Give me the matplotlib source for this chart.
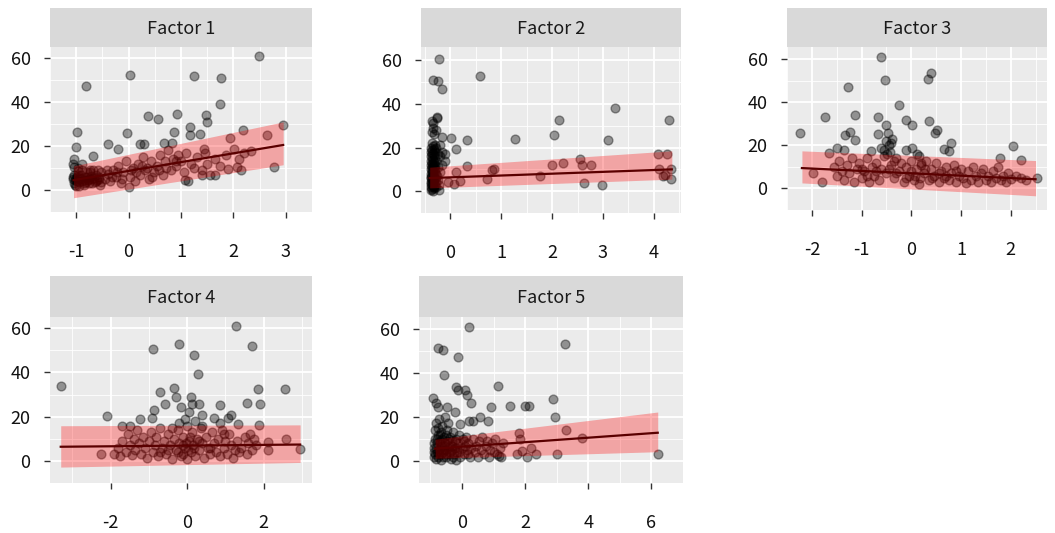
import matplotlib
matplotlib.use("Agg")
import matplotlib.pyplot as plt
import numpy as np

plt.rcParams['font.family'] = ['Noto Sans CJK KR', 'DejaVu Sans']
plt.rcParams['axes.unicode_minus'] = False

# ---- data ----------------------------------------------------------------
titles = ['Factor 1', 'Factor 2', 'Factor 3', 'Factor 4', 'Factor 5']

f1_pts = [
    (-0.82, 47.5), (0.02, 52.5), (1.24, 51.8), (1.76, 50.8), (2.49, 60.9), (1.74, 39),
    (0.37, 33.8), (0.56, 32.5), (0.93, 34.6), (1.47, 34), (1.49, 30.9), (1.18, 28.7),
    (2.94, 29.4), (-0.98, 26.3), (-0.03, 26), (0.87, 26.3), (1.18, 25.1), (1.37, 25.4),
    (2.18, 27.3), (2.65, 25.1), (1.93, 23.7), (-1.0, 19.8), (-0.67, 15.4), (-0.39, 20.9),
    (-0.2, 18.8), (0.22, 20.9), (0.29, 20.9), (0.67, 21.5), (0.83, 21.2), (1.43, 18.6),
    (2.02, 18.8), (2.33, 17.6), (2.77, 10.7), (2.06, 10.4), (2.15, 8.9), (1.89, 9.7),
    (1.64, 6.8), (1.41, 6.8), (1.08, 4.6), (1.13, 3.9), (-1.05, 14), (-1.04, 10.4),
    (-0.88, 11.8), (-0.74, 9),
    (-1.07, 5), (-1.05, 3), (-1.04, 7), (-1.02, 4.5), (-1.0, 2), (-0.98, 6), (-0.97, 8.5),
    (-0.95, 3.5), (-0.93, 5.5), (-0.9, 7), (-0.88, 4), (-0.85, 2.5), (-0.83, 6), (-0.8, 8),
    (-0.78, 4.5), (-0.75, 3), (-0.72, 6.5), (-0.7, 5), (-0.67, 9), (-0.65, 3.5), (-0.62, 7),
    (-0.6, 4.5), (-0.57, 6), (-0.55, 2.5), (-0.52, 8), (-1.06, 12), (-0.96, 10),
    (-1.06, 6), (-1.03, 2.5), (-1.01, 5.5), (-0.99, 4), (-0.96, 7), (-0.94, 2), (-0.91, 5),
    (-0.89, 9), (-0.86, 3), (-0.84, 4.5), (-0.81, 3.5), (-0.79, 6), (-0.76, 5), (-0.73, 8),
    (-0.69, 3), (-0.66, 5.5), (-0.63, 4), (-0.59, 9), (-0.56, 5), (-0.53, 3.5),
    (-0.45, 5), (-0.4, 7.5), (-0.35, 4), (-0.3, 9), (-0.25, 6), (-0.2, 11), (-0.15, 3),
    (-0.1, 8), (-0.05, 13), (0.0, 1.5), (0.02, 6), (0.08, 10), (0.12, 4), (0.18, 12),
    (0.22, 7), (0.28, 15), (0.32, 9), (0.38, 5), (0.42, 13), (0.48, 8), (0.55, 11),
    (0.6, 16), (0.65, 7), (0.7, 13), (0.75, 18), (0.8, 9), (0.85, 14), (0.9, 11),
    (0.95, 16), (1.0, 13), (1.05, 8), (1.1, 17), (1.2, 12), (1.25, 10), (1.3, 15),
    (1.4, 9), (1.45, 17), (1.5, 12), (1.55, 7), (1.65, 14), (1.75, 11), (1.85, 16),
    (2.1, 14), (2.2, 17), (-0.42, 9), (-0.32, 6), (-0.22, 8), (-0.12, 5), (0.05, 9),
    (0.15, 8), (0.25, 11), (0.35, 10), (0.45, 6), (0.58, 9), (0.72, 10), (0.9, 13),
]

f2_pts = [
    (-0.22, 60.7), (-0.34, 51.2), (-0.23, 50.4), (-0.16, 47), (0.59, 52.8), (3.24, 38.3),
    (2.14, 32.5), (4.3, 32.5), (-0.26, 33.6), (-0.34, 31.4), (0.02, 24.4), (-0.16, 24.7),
    (0.11, 19.4), (0.33, 23.4), (1.27, 24.1), (2.04, 25.7), (3.1, 23.4), (0.33, 11.5),
    (0.72, 5.4), (0.82, 9.5), (0.87, 10.2), (1.76, 6.8), (2.0, 11.8), (2.22, 12.9),
    (2.55, 14.9), (2.59, 12.2), (2.63, 3.7), (2.76, 11.8), (2.99, 3), (4.08, 16.9),
    (4.26, 16.9), (4.1, 10.2), (4.22, 7.5), (4.33, 10.2), (4.33, 5.7), (4.18, 6.8),
    (0.12, 8.8), (0.07, 3.4), (0.2, 4.7), (-0.05, 4.3), (-0.21, 0.7),
    (-0.38, 0.5), (-0.38, 2), (-0.38, 4), (-0.38, 6), (-0.38, 8), (-0.38, 10), (-0.38, 12),
    (-0.38, 14), (-0.38, 16), (-0.38, 18), (-0.38, 20),
    (-0.36, 1), (-0.36, 3), (-0.36, 5), (-0.36, 7), (-0.36, 9), (-0.36, 11), (-0.36, 13),
    (-0.36, 15), (-0.36, 17), (-0.36, 19), (-0.36, 22), (-0.36, 27),
    (-0.34, 0), (-0.34, 2.5), (-0.34, 5.5), (-0.34, 8.5), (-0.34, 11.5), (-0.34, 14.5),
    (-0.34, 17.5), (-0.34, 20.5), (-0.34, 29), (-0.35, 32),
    (-0.32, 1.5), (-0.32, 4.5), (-0.32, 7.5), (-0.32, 10.5), (-0.32, 13.5), (-0.32, 16.5),
    (-0.32, 19.5), (-0.32, 26),
    (-0.3, 3), (-0.3, 6), (-0.3, 9), (-0.3, 12), (-0.3, 15), (-0.3, 18), (-0.3, 21),
    (-0.27, 2), (-0.27, 8), (-0.27, 14), (-0.27, 20), (-0.27, 28),
    (-0.24, 5), (-0.24, 11), (-0.24, 17), (-0.25, 34),
    (-0.2, 9), (-0.2, 16), (-0.2, 21), (-0.15, 12), (-0.15, 18), (-0.1, 14), (-0.1, 17),
    (-0.37, 3.5), (-0.37, 6.5), (-0.35, 9.5), (-0.35, 4), (-0.33, 7), (-0.33, 12.5),
    (-0.31, 2), (-0.31, 5), (-0.29, 10), (-0.28, 4.5), (-0.26, 7), (-0.22, 3),
]

f3_pts = [
    (-0.6, 61.2), (-0.53, 50.3), (0.33, 51), (0.4, 53.7), (-1.28, 47.3), (-0.25, 38.8),
    (-1.73, 33.4), (-1.14, 34.3), (-0.66, 33.4), (-0.1, 31.9), (0.01, 29.4), (0.35, 31.2),
    (-2.24, 26), (-1.34, 24.9), (-1.24, 26.4), (-1.13, 22.7), (-0.66, 25.4), (-0.5, 29.4),
    (-0.47, 25.7), (0.47, 26), (0.52, 27.2), (0.8, 21.2), (0.65, 18.5), (0.76, 17.5),
    (2.05, 19.7), (2.21, 13.3), (1.79, 14.2), (2.52, 5.1), (-1.98, 7.3), (-1.79, 3),
    (-1.66, 16.7), (-1.5, 19), (-1.36, 17.9), (-0.81, 17.5), (-0.4, 21.2), (0.02, 19),
    (-0.1, 17.9),
    (-1.55, 10), (-1.5, 6), (-1.45, 13), (-1.4, 8), (-1.35, 4), (-1.3, 11), (-1.25, 7),
    (-1.2, 14), (-1.15, 3), (-1.1, 9), (-1.05, 12), (-1.0, 5), (-0.95, 8), (-0.9, 14),
    (-0.85, 3), (-0.8, 10), (-0.75, 6), (-0.7, 12), (-0.65, 4), (-0.6, 9), (-0.55, 15),
    (-0.5, 7), (-0.45, 20), (-0.42, 17), (-0.4, 11), (-0.38, 23), (-0.35, 5), (-0.3, 14),
    (-0.25, 8), (-0.2, 12), (-0.15, 3), (-0.1, 10), (-0.05, 6), (0.0, 13), (0.05, 4),
    (0.1, 9), (0.12, 16), (0.15, 2), (0.2, 11), (0.25, 7), (0.3, 13), (0.35, 4), (0.4, 9),
    (0.45, 6), (0.5, 12), (0.55, 3), (0.6, 8), (0.65, 5), (0.7, 10), (0.75, 4), (0.8, 7),
    (0.85, 11), (0.9, 3), (0.95, 6), (1.0, 9), (1.05, 5), (1.1, 2.5), (1.15, 8), (1.2, 4),
    (1.25, 10), (1.3, 6), (1.35, 3), (1.4, 7), (1.45, 9), (1.5, 4), (1.55, 6), (1.6, 3),
    (1.65, 8), (1.7, 5), (1.75, 10), (1.8, 4), (1.85, 6), (1.9, 3), (1.95, 7), (2.0, 4.5),
    (2.1, 6), (2.2, 5), (2.3, 4), (-0.55, 18), (-0.5, 22), (-0.48, 16), (-0.6, 19),
    (-0.35, 13), (0.15, 15), (0.2, 12),
    (-1.0, 9), (-0.9, 6), (-0.7, 8), (-0.45, 9), (-0.3, 7), (-0.1, 5), (0.0, 8),
    (0.08, 6), (0.18, 5), (0.28, 9), (0.42, 5), (0.55, 7), (0.7, 6), (0.9, 8),
]

f4_pts = [
    (-3.3, 33.9), (-2.08, 20.2), (-0.9, 50.8), (-0.2, 52.9), (0.19, 47.7), (0.28, 39.5),
    (1.27, 61.2), (1.7, 51.9), (-0.7, 31), (-0.35, 33), (-0.29, 28.7), (-0.57, 25.6),
    (0.1, 28.7), (0.13, 25.6), (0.31, 25.6), (-0.17, 24.2), (-0.87, 22.8), (-0.92, 19.2),
    (0.85, 25.3), (1.57, 26.3), (1.85, 32.7), (1.9, 25.6), (1.88, 16.1), (2.55, 32.7),
    (2.59, 10), (2.94, 5.3), (2.1, 8.5), (2.11, 5), (1.07, 19.6), (1.14, 20.6),
    (1.33, 16.8), (0.7, 19.2), (0.39, 20.6), (-1.7, 15.6), (-1.5, 15.9), (-1.24, 18.8),
    (-2.25, 3.1),
    (-1.9, 3), (-1.8, 6), (-1.75, 2), (-1.7, 9), (-1.6, 4), (-1.55, 12), (-1.5, 7),
    (-1.45, 2.5), (-1.4, 10), (-1.35, 5), (-1.3, 14), (-1.25, 8), (-1.2, 3), (-1.15, 11),
    (-1.1, 6), (-1.05, 1.5), (-1.0, 9), (-0.95, 13), (-0.9, 4), (-0.85, 7), (-0.8, 11),
    (-0.75, 2), (-0.7, 15), (-0.65, 6), (-0.6, 9), (-0.55, 3), (-0.5, 12), (-0.45, 7),
    (-0.4, 1), (-0.35, 10), (-0.3, 5), (-0.25, 14), (-0.2, 8), (-0.15, 2), (-0.1, 11),
    (-0.05, 6), (0.0, 16), (0.0, 1), (0.05, 9), (0.1, 4), (0.12, 13), (0.15, 7), (0.2, 2),
    (0.25, 10), (0.3, 5), (0.35, 15), (0.4, 8), (0.45, 1.5), (0.5, 11), (0.55, 6),
    (0.6, 3), (0.65, 13), (0.7, 8), (0.75, 4), (0.8, 10), (0.85, 2), (0.9, 14), (0.95, 6),
    (1.0, 9), (1.05, 3), (1.1, 12), (1.15, 7), (1.2, 1.5), (1.3, 9), (1.35, 4), (1.4, 6),
    (1.5, 11), (1.55, 3), (1.6, 8), (1.65, 12), (1.7, 5), (1.75, 10), (1.8, 7),
    (-0.05, 19), (0.05, 22), (-0.2, 17), (0.2, 18), (0.4, 16), (-0.4, 15), (0.85, 17),
    (0.95, 12), (-0.1, 3), (-0.02, 8), (0.02, 5), (0.08, 11), (-0.12, 7), (-0.25, 4),
    (0.18, 6), (0.32, 9), (-0.5, 5), (0.6, 6), (-0.7, 4), (1.25, 5),
]

f5_pts = [
    (0.22, 60.9), (-0.76, 51.2), (-0.61, 50.2), (-0.13, 47.1), (3.26, 52.9), (-0.56, 38.9),
    (-0.18, 33.5), (-0.11, 32.4), (0.09, 32.4), (0.15, 30.1), (1.15, 33.9), (0.29, 26.1),
    (-0.91, 28.5), (-0.83, 26.1), (-0.76, 24.4), (-0.48, 24.7), (-0.23, 22.3), (0.92, 24.3),
    (1.53, 25), (2.0, 25), (2.13, 25), (2.88, 28.1), (2.96, 19.9), (3.3, 14.1),
    (3.8, 10.4), (6.21, 3), (3.01, 3), (2.33, 3), (2.06, 1.9), (2.18, 5.7), (1.9, 4.6),
    (1.73, 3), (1.8, 12.5), (1.83, 9.8), (1.17, 2.3), (0.84, 18.2), (0.57, 19.9),
    (0.35, 17.9), (0.22, 17.9), (-0.05, 16.6),
    (-0.9, 2), (-0.88, 6), (-0.86, 10), (-0.85, 14), (-0.83, 17), (-0.82, 1), (-0.8, 4),
    (-0.78, 8), (-0.77, 12), (-0.75, 15), (-0.73, 19), (-0.72, 3), (-0.7, 6), (-0.68, 9),
    (-0.66, 13), (-0.65, 0.5), (-0.63, 16), (-0.6, 4), (-0.58, 7), (-0.56, 11), (-0.55, 20),
    (-0.52, 2), (-0.5, 5), (-0.48, 9), (-0.46, 14), (-0.44, 17), (-0.42, 3), (-0.4, 7),
    (-0.38, 11), (-0.35, 1), (-0.33, 5), (-0.3, 9), (-0.28, 13), (-0.25, 3), (-0.22, 6),
    (-0.2, 10), (-0.18, 0.5), (-0.15, 4), (-0.12, 8), (-0.1, 12), (-0.05, 2), (0.0, 6),
    (0.05, 9), (0.08, 3), (0.12, 11), (0.15, 5), (0.2, 8), (0.25, 2), (0.3, 6), (0.35, 10),
    (0.4, 4), (0.45, 7), (0.5, 2), (0.55, 9), (0.6, 5), (0.65, 11), (0.7, 3), (0.75, 7),
    (0.8, 9), (0.85, 2), (0.9, 5), (0.95, 8), (1.0, 4), (1.05, 10), (1.1, 3), (1.2, 6),
    (1.25, 2), (1.3, 8),
    (-0.89, 4), (-0.87, 8), (-0.84, 3), (-0.81, 6), (-0.79, 10), (-0.76, 2), (-0.74, 5),
    (-0.71, 8), (-0.69, 12), (-0.67, 3), (-0.64, 7), (-0.62, 10), (-0.59, 2), (-0.57, 5),
    (-0.54, 8), (-0.51, 12), (-0.49, 3), (-0.45, 6), (-0.41, 10), (-0.37, 4), (-0.32, 7),
    (-0.27, 2), (-0.23, 9), (-0.17, 6), (-0.08, 4), (0.02, 10), (0.1, 7), (0.18, 3),
]

# fitted line and band: x ends, line y ends, band lower / upper at those ends
fit_x = [(-1.05, 2.95), (-0.4, 4.35), (-2.2, 2.5), (-3.3, 2.95), (-0.85, 6.2)]
fit_y = [(4.5, 20.5), (6.0, 10.0), (9.5, 4.3), (6.4, 7.4), (5.6, 12.8)]
band_lo = [(-3.5, 11.5), (1.5, 5.5), (2.6, -3.4), (-2.8, -0.7), (1.2, 4.2)]
band_hi = [(11.0, 31.0), (11.0, 18.5), (17.5, 13.0), (15.9, 16.3), (9.9, 22.2)]

x_ticks = [[-1, 0, 1, 2, 3], [0, 1, 2, 3, 4], [-2, -1, 0, 1, 2], [-2, 0, 2], [0, 2, 4, 6]]
x_lims = [(-1.31, 3.16), (-0.57, 4.53), (-2.45, 2.73), (-3.58, 3.26), (-1.36, 6.6)]
y_lims = [(-6.5, 65.1), (-1.2, 66.1), (-7.2, 65.8), (-5.5, 65.1), (-2.4, 65.3)]
y_ticks = [0, 20, 40, 60]

all_pts = [f1_pts, f2_pts, f3_pts, f4_pts, f5_pts]

# panel boxes in pixels: x0, x1, strip top, plot top, plot bottom
boxes = [(50, 312, 8, 47, 212), (421, 681, 8, 47, 213), (787, 1047, 8, 47, 210),
         (50, 312, 276, 317, 483), (419, 683, 276, 317, 483)]

W, H = 1055, 533
fig = plt.figure(figsize=(W / 100, H / 100), dpi=100)


def frac(x0, x1, y0, y1):
    return [x0 / W, 1 - y1 / H, (x1 - x0) / W, (y1 - y0) / H]


for i in range(5):
    x0, x1, st, pt, pb = boxes[i]
    # strip
    sax = fig.add_axes(frac(x0, x1, st, pt))
    sax.set_facecolor('#D9D9D9')
    sax.set_xticks([])
    sax.set_yticks([])
    for s in sax.spines.values():
        s.set_visible(False)
    sax.text(0.5, 0.47, titles[i], ha='center', va='center', fontsize=13, color='#1a1a1a',
             transform=sax.transAxes)

    ax = fig.add_axes(frac(x0, x1, pt, pb))
    ax.set_facecolor('#EBEBEB')
    for s in ax.spines.values():
        s.set_visible(False)
    ax.set_xlim(*x_lims[i])
    ax.set_ylim(*y_lims[i])
    ax.set_xticks(x_ticks[i])
    ax.set_yticks(y_ticks)
    step = x_ticks[i][1] - x_ticks[i][0]
    minors = np.arange(x_ticks[i][0] - step / 2, x_ticks[i][-1] + step, step)
    ax.set_xticks(minors, minor=True)
    ax.set_yticks([-10, 10, 30, 50], minor=True)
    ax.grid(which='major', color='white', linewidth=1.3)
    ax.grid(which='minor', color='white', linewidth=0.6)
    ax.set_axisbelow(True)
    ax.tick_params(which='minor', length=0)
    ax.tick_params(which='major', length=4, width=1, color='#333333', labelsize=13,
                   labelcolor='#111111')
    ax.tick_params(axis='x', pad=18)
    ax.tick_params(axis='y', pad=10)

    px = [p[0] for p in all_pts[i]]
    py = [p[1] for p in all_pts[i]]
    ax.scatter(px, py, s=40, facecolor='black', edgecolor='black', linewidths=1.0,
               alpha=0.38, zorder=2)
    ax.fill_between(fit_x[i], band_lo[i], band_hi[i], color='red', alpha=0.3,
                    linewidth=0, zorder=3)
    ax.plot(fit_x[i], fit_y[i], color='#5a0000', linewidth=1.6, zorder=4)

fig.savefig('out.png', dpi=100)
